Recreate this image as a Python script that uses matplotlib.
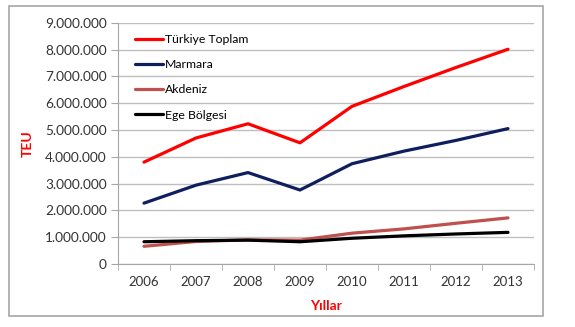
import matplotlib
matplotlib.use("Agg")
import matplotlib.pyplot as plt
from matplotlib.patches import Rectangle
from matplotlib.ticker import FuncFormatter, FixedLocator

plt.rcParams['font.family'] = ['Lato', 'DejaVu Sans']

yillar = ['2006', '2007', '2008', '2009', '2010', '2011', '2012', '2013']
turkiye_toplam = [3800000, 4700000, 5230000, 4520000, 5880000, 6620000, 7330000, 8010000]
marmara = [2270000, 2940000, 3410000, 2760000, 3740000, 4210000, 4610000, 5050000]
akdeniz = [660000, 840000, 900000, 890000, 1150000, 1310000, 1520000, 1720000]
ege_bolgesi = [830000, 870000, 890000, 830000, 960000, 1050000, 1120000, 1180000]

seriler = [
    ('Türkiye Toplam', turkiye_toplam, '#FF0000'),
    ('Marmara', marmara, '#0F1F5E'),
    ('Akdeniz', akdeniz, '#C0504D'),
    ('Ege Bölgesi', ege_bolgesi, '#000000'),
]

fig = plt.figure(figsize=(5.75, 3.27), dpi=100)
# cerceve
fig.patches.append(Rectangle((9 / 575, 1 - 316 / 327), 534 / 575, 310 / 327,
                             transform=fig.transFigure, fill=False,
                             edgecolor='#A6A6A6', linewidth=1.2))

ax = fig.add_axes([118 / 575, 1 - 264 / 327, 416 / 575, 241.3 / 327])
x = list(range(len(yillar)))
for ad, degerler, renk in seriler:
    ax.plot(x, degerler, color=renk, linewidth=2.3, label=ad, solid_capstyle='round')

ax.set_xlim(-0.5, len(yillar) - 0.5)
ax.set_ylim(0, 9000000)
ax.set_yticks(range(0, 9000001, 1000000))
ax.yaxis.set_major_formatter(FuncFormatter(lambda v, p: f"{int(v):,}".replace(',', '.')))
ax.set_xticks(x)
ax.set_xticklabels(yillar)
ax.xaxis.set_minor_locator(FixedLocator([i - 0.5 for i in range(len(yillar) + 1)]))
ax.tick_params(axis='x', which='major', length=0, pad=9, labelsize=9.5, colors='#333333')
ax.tick_params(axis='x', which='minor', length=4, color='#A6A6A6', direction='out')
ax.tick_params(axis='y', length=5, color='#A6A6A6', labelsize=9.8, labelcolor='#333333', pad=3)

ax.grid(axis='y', color='#BFBFBF', linewidth=1)
ax.set_axisbelow(True)
for s in ['top', 'right']:
    ax.spines[s].set_visible(False)
for s in ['left', 'bottom']:
    ax.spines[s].set_color('#A6A6A6')

ax.set_ylabel('TEU', color='#FF0000', fontweight='bold', fontsize=10, labelpad=8)
ax.set_xlabel('Yıllar', color='#FF0000', fontweight='bold', fontsize=10, labelpad=8)

ax.legend(loc='upper left', bbox_to_anchor=(0.03, 0.972), frameon=False, fontsize=8.8,
          handlelength=2.3, handletextpad=0.15, labelspacing=1.15, borderaxespad=0)

fig.savefig('out.png', dpi=100)
